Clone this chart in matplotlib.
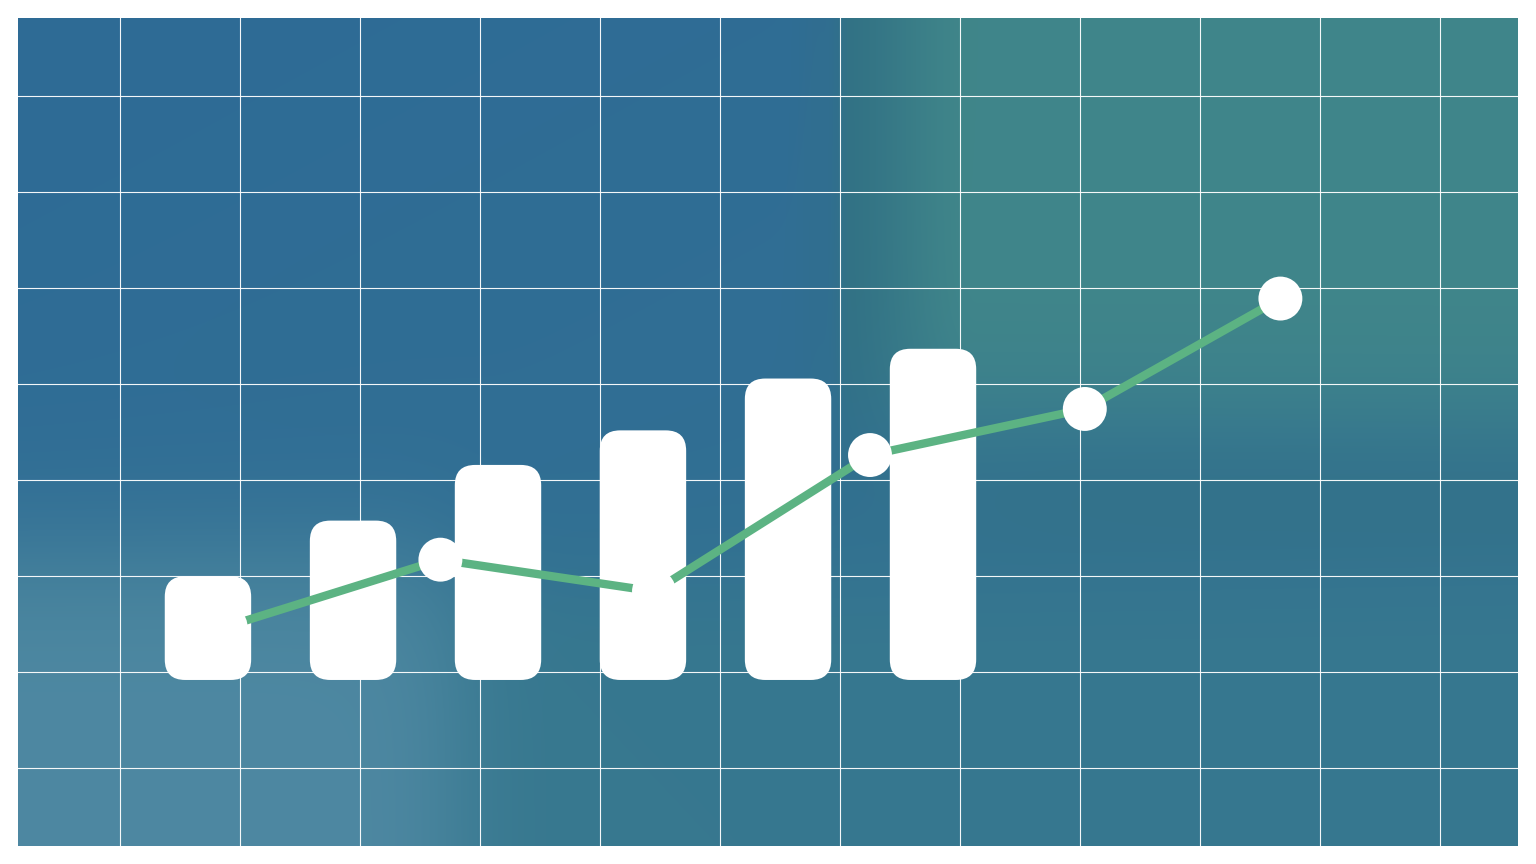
import numpy as np
import matplotlib
matplotlib.use("Agg")
import matplotlib.pyplot as plt
from matplotlib.patches import FancyBboxPatch

# data (x in grid units of 10 per cell, y likewise)
bar_x = [17.33, 29.42, 41.5, 53.58, 65.67, 77.75]
bar_base = 19.17
bar_h = [10.8, 16.6, 22.4, 26.0, 31.4, 34.5]
line_x = [18.8, 36.7, 54.5, 72.5, 90.4, 106.7]
line_y = [24.7, 31.7, 28.4, 42.6, 47.4, 58.9]

bar_w = 7.2
green = "#5cb383"

fig = plt.figure(figsize=(15.36, 8.64), dpi=100)
ax = fig.add_axes([18 / 1536, 18 / 864, 1500 / 1536, 828 / 864])
x0, x1 = 1.5, 126.5
y0, y1 = 1.875, 88.125
ax.set_xlim(x0, x1)
ax.set_ylim(y0, y1)

# soft background
H, W = 240, 420
u = np.linspace(0, 1, W)[None, :]
v = np.linspace(0, 1, H)[:, None]
sig = lambda t: 1 / (1 + np.exp(-t))

def ramp(t, a, b):
    t = np.clip((t - a) / (b - a), 0, 1)
    return t * t * (3 - 2 * t)

blue = np.array([46, 107, 150]) / 255
teal = np.array([64, 134, 138]) / 255
teal0 = np.array([50, 114, 133]) / 255
light = np.array([78, 136, 162]) / 255
lower = np.array([55, 120, 143]) / 255
dark = np.array([50, 112, 134]) / 255

img = np.ones((H, W, 3)) * blue
# slight lightening toward centre
img = img + (lower - blue) * (0.5 * u + 0.5 * v)[..., None] * 0.6
# darker edge just left of the teal zone
m = np.exp(-((u - 0.535) / 0.015) ** 2) * sig((0.5 - v) / 0.05)
img = img * (1 - 0.3 * m[..., None]) + dark * 0.3 * m[..., None]
# teal upper right
m = ramp(u, 0.538, 0.556) * sig((0.50 - v) / 0.05)
tcol = teal0 + (teal - teal0) * ramp(u, 0.545, 0.64)[..., None]
img = img * (1 - m[..., None]) + tcol * m[..., None]
# dark band right middle
m = sig((u - 0.6) / 0.05) * np.exp(-((v - 0.6) / 0.09) ** 2)
img = img * (1 - 0.6 * m[..., None]) + dark * 0.6 * m[..., None]
# lower region
m = sig((v - 0.68) / 0.04)
img = img * (1 - m[..., None]) + lower * m[..., None]
# light lower-left blob
m = sig((v - 0.66) / 0.05) * sig((0.29 - u) / 0.02)
img = img * (1 - m[..., None]) + light * m[..., None]
ax.imshow(np.clip(img, 0, 1), extent=(x0, x1, y0, y1), aspect="auto",
          interpolation="bicubic", zorder=0)

ax.set_xticks(np.arange(10, 121, 10))
ax.set_yticks(np.arange(10, 81, 10))
ax.grid(True, color="white", linewidth=0.8, alpha=0.95, zorder=1)
ax.set_axisbelow(False)
ax.tick_params(length=0, labelbottom=False, labelleft=False)
for s in ax.spines.values():
    s.set_visible(False)

# rounded bars
for xc, h in zip(bar_x, bar_h):
    p = FancyBboxPatch((xc - bar_w / 2, bar_base), bar_w, h,
                       boxstyle="round,pad=0,rounding_size=1.7",
                       mutation_aspect=1.25, fc="white", ec="none", zorder=2)
    ax.add_patch(p)

ax.plot(line_x, line_y, color=green, linewidth=6, solid_capstyle="butt", zorder=3)
ax.scatter(line_x, line_y, s=1000, color="white", edgecolors="none", zorder=4)

fig.savefig("out.png", dpi=100, facecolor="white")
